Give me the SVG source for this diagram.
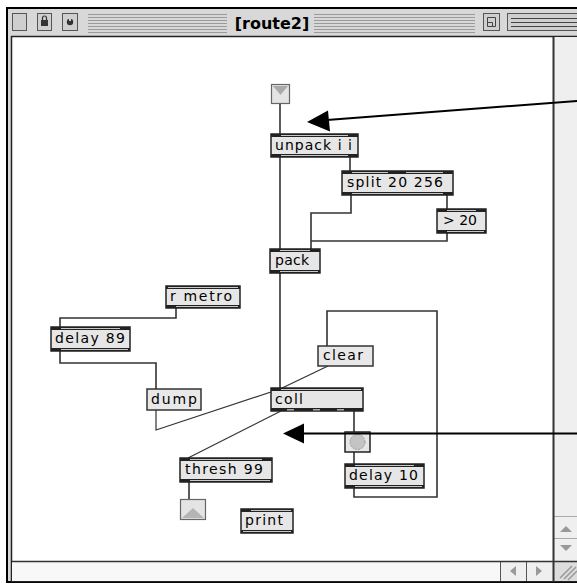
<svg xmlns="http://www.w3.org/2000/svg" width="577" height="584" viewBox="0 0 577 584">
<style>
.b{fill:#e6e6e6;stroke:#222;stroke-width:1.5}
.m{fill:#e8e8e8;stroke:#333;stroke-width:1.5}
.s{fill:#222}
.l{fill:#c8c8c8}
.p{fill:#000}
.t{font-family:"DejaVu Sans","Liberation Sans",sans-serif;font-size:14px;fill:#000}
.c{fill:none;stroke:#333;stroke-width:1.6}
.d{fill:none;stroke:#333;stroke-width:1.2}
.stripe{stroke:#9a9a9a;stroke-width:1}
</style>
<rect x="0" y="0" width="577" height="584" fill="#fff"/>
<g id="window">
<rect x="7" y="8" width="580" height="574" fill="#d8d8d8" stroke="#000" stroke-width="2"/>
<rect x="11.5" y="36.5" width="570" height="545" fill="#fff" stroke="#222" stroke-width="1.5"/>
<g id="titlebar">
<rect x="12.5" y="13.5" width="14" height="17" fill="#cfcfcf" stroke="#555"/>
<rect x="37.5" y="13.5" width="14" height="17" fill="#cfcfcf" stroke="#555"/>
<rect x="41" y="20" width="7" height="6" fill="#333"/>
<path d="M42.5,20 v-2 a2,2 0 0 1 4,0 v2" fill="none" stroke="#333" stroke-width="1.2"/>
<rect x="62.5" y="13.5" width="15" height="17" fill="#cfcfcf" stroke="#555"/>
<circle cx="70" cy="22" r="3.2" fill="#333"/>
<rect x="69" y="17" width="2" height="4" fill="#cfcfcf"/>
<g class="stripe">
<path d="M88,14.5H227M88,17.5H227M88,20.5H227M88,23.5H227M88,26.5H227M88,29.5H227M88,32.5H227"/>
<path d="M314,14.5H475M314,17.5H475M314,20.5H475M314,23.5H475M314,26.5H475M314,29.5H475M314,32.5H475"/>
</g>
<text x="272" y="29" text-anchor="middle" font-family="DejaVu Sans, sans-serif" font-weight="bold" font-size="16" fill="#000">[route2]</text>
<rect x="483.5" y="13.5" width="16" height="17" fill="#cfcfcf" stroke="#555"/>
<path d="M487.5,17.5 h8 v9 h-8 z M487.5,22.5 h5 v4" fill="none" stroke="#444"/>
<rect x="507.5" y="13.5" width="80" height="17" fill="#cfcfcf" stroke="#555"/>
<path d="M511,18.5H577M511,22.5H577M511,26.5H577" stroke="#444"/>
</g>
<g id="scrollbars">
<rect x="553" y="37" width="30" height="524" fill="#efefef"/>
<path d="M553,516.5H577M553,538.5H577" stroke="#aaa" stroke-width="1"/>
<path d="M560,532 L566,526 L572,532 Z" fill="#999"/>
<path d="M560,545 L566,551 L572,545 Z" fill="#999"/>
<rect x="12" y="562" width="541" height="19" fill="#f8f8f8"/>
<rect x="500" y="562" width="53" height="19" fill="#efefef"/>
<path d="M500.5,561V581M526.5,561V581" stroke="#555" stroke-width="1"/>
<path d="M510,571 L516,566 L516,576 Z" fill="#999"/>
<path d="M542,571 L536,566 L536,576 Z" fill="#999"/>
<rect x="554" y="562" width="30" height="19" fill="#dcdcdc"/>
<path d="M560,578 L572,566 M564,579 L576,567 M568,580 L577,571" stroke="#999" stroke-width="1.5"/>
<path d="M12,561.5H577" stroke="#333" stroke-width="1.5"/>
<path d="M553.5,37V582" stroke="#333" stroke-width="2"/>
</g>
</g>
<g id="connectors">
<path class="c" d="M280,104V134"/>
<path class="c" d="M280,157V249"/>
<path class="c" d="M350,157V171"/>
<path class="c" d="M351,195V213H311V249"/>
<path class="c" d="M447,195V209"/>
<path class="c" d="M447,233V241H311"/>
<path class="c" d="M280,273V388"/>
<path class="c" d="M176,307V318H60V327"/>
<path class="c" d="M60,351V363H156V389"/>
<path class="d" d="M156,410V430L280,389"/>
<path class="d" d="M328,366L280,389"/>
<path class="d" d="M281,411L188,458"/>
<path class="c" d="M354,411V432"/>
<path class="c" d="M354,452V464"/>
<path class="c" d="M354,488V497H437V311H327V346"/>
<path class="c" d="M189,482V499"/>
</g>
<g id="inlet">
<rect x="271.5" y="84.5" width="18" height="19" fill="#e4e4e4" stroke="#666" stroke-width="1.2"/>
<path d="M273,86 L288,86 L280.5,95 Z" fill="#aaa"/>
</g>
<g id="unpack">
<rect class="b" x="271" y="134" width="87" height="23"/>
<rect class="s" x="271" y="134" width="87" height="3"/><rect class="l" x="281" y="135" width="67" height="1"/>
<rect class="s" x="271" y="154" width="87" height="3"/><rect class="l" x="281" y="155" width="67" height="1"/>
<text class="t" x="275" y="150" textLength="77" lengthAdjust="spacing">unpack i i</text>
</g>
<g id="split">
<rect class="b" x="342" y="171" width="111" height="24"/>
<rect class="s" x="342" y="171" width="111" height="3"/><rect class="l" x="352" y="172" width="36" height="1"/><rect class="l" x="406" y="172" width="37" height="1"/>
<rect class="s" x="342" y="192" width="111" height="3"/><rect class="l" x="352" y="193" width="91" height="1"/>
<text class="t" x="347" y="187" textLength="96" lengthAdjust="spacing">split 20 256</text>
</g>
<g id="gt20">
<rect class="b" x="437" y="209" width="49" height="24"/>
<rect class="s" x="437" y="209" width="49" height="3"/><rect class="l" x="447" y="210" width="29" height="1"/>
<rect class="s" x="437" y="230" width="49" height="3"/><rect class="l" x="447" y="231" width="37" height="1"/>
<text class="t" x="443" y="225" textLength="34" lengthAdjust="spacing">&gt; 20</text>
</g>
<g id="pack">
<rect class="b" x="270" y="249" width="50" height="24"/>
<rect class="s" x="270" y="249" width="50" height="3"/><rect class="l" x="280" y="250" width="30" height="1"/>
<rect class="s" x="270" y="270" width="50" height="3"/><rect class="l" x="280" y="271" width="38" height="1"/>
<text class="t" x="275" y="265" textLength="34" lengthAdjust="spacing">pack</text>
</g>
<g id="rmetro">
<rect class="b" x="166" y="286" width="74" height="22"/>
<rect class="s" x="166" y="286" width="74" height="3"/><rect class="l" x="168" y="287" width="70" height="1"/>
<rect class="s" x="166" y="305" width="74" height="3"/><rect class="l" x="176" y="306" width="62" height="1"/>
<text class="t" x="170" y="301" textLength="62" lengthAdjust="spacing">r metro</text>
</g>
<g id="delay89">
<rect class="b" x="51" y="327" width="79" height="24"/>
<rect class="s" x="51" y="327" width="79" height="3"/><rect class="l" x="61" y="328" width="59" height="1"/>
<rect class="s" x="51" y="348" width="79" height="3"/><rect class="l" x="61" y="349" width="67" height="1"/>
<text class="t" x="55" y="343" textLength="70" lengthAdjust="spacing">delay 89</text>
</g>
<g id="dump">
<rect class="m" x="147" y="389" width="54" height="21"/>
<text class="t" x="151" y="404" textLength="46" lengthAdjust="spacing">dump</text>
</g>
<g id="clear">
<rect class="m" x="318" y="346" width="55" height="20"/>
<text class="t" x="323" y="360" textLength="40" lengthAdjust="spacing">clear</text>
</g>
<g id="coll">
<rect class="b" x="271" y="388" width="92" height="23"/>
<rect class="s" x="271" y="388" width="92" height="3"/><rect class="l" x="281" y="389" width="80" height="1"/>
<rect class="s" x="271" y="408" width="92" height="3"/>
<rect fill="#aaa" x="287" y="409" width="7" height="1.5"/><rect fill="#aaa" x="313" y="409" width="7" height="1.5"/><rect fill="#aaa" x="337" y="409" width="7" height="1.5"/>
<text class="t" x="275" y="404" textLength="28" lengthAdjust="spacing">coll</text>
</g>
<g id="bang">
<rect class="b" x="345" y="432" width="25" height="20"/>
<circle cx="357.5" cy="442" r="7.5" fill="#c4c4c4" stroke="#999" stroke-dasharray="2 1"/>
</g>
<g id="delay10">
<rect class="b" x="345" y="464" width="79" height="24"/>
<rect class="s" x="345" y="464" width="79" height="3"/><rect class="l" x="355" y="465" width="59" height="1"/>
<rect class="s" x="345" y="485" width="79" height="3"/><rect class="l" x="355" y="486" width="67" height="1"/>
<text class="t" x="349" y="480" textLength="69" lengthAdjust="spacing">delay 10</text>
</g>
<g id="thresh">
<rect class="b" x="180" y="458" width="92" height="24"/>
<rect class="s" x="180" y="458" width="92" height="3"/><rect class="l" x="190" y="459" width="72" height="1"/>
<rect class="s" x="180" y="479" width="92" height="3"/><rect class="l" x="190" y="480" width="80" height="1"/>
<text class="t" x="185" y="474" textLength="78" lengthAdjust="spacing">thresh 99</text>
</g>
<g id="outlet">
<rect x="180.5" y="499.5" width="25" height="20" fill="#e4e4e4" stroke="#666" stroke-width="1.2"/>
<path d="M182,518 L204,518 L193,508 Z" fill="#b4b4b4"/>
</g>
<g id="print">
<rect class="b" x="241" y="509" width="52" height="24"/>
<rect class="s" x="241" y="509" width="52" height="3"/><rect class="l" x="251" y="510" width="40" height="1"/>
<rect class="s" x="241" y="530" width="52" height="3"/><rect class="l" x="243" y="531" width="48" height="1"/>
<text class="t" x="245" y="525" textLength="38" lengthAdjust="spacing">print</text>
</g>
<g id="annotations">
<path d="M577,101 L327,120" stroke="#000" stroke-width="2" fill="none"/>
<path d="M307,122 L328,110.5 L330,131.5 Z" fill="#000"/>
<path d="M577,433.5 H303" stroke="#000" stroke-width="2" fill="none"/>
<path d="M283,433.5 L304,423.5 L304,443.5 Z" fill="#000"/>
</g>
</svg>
